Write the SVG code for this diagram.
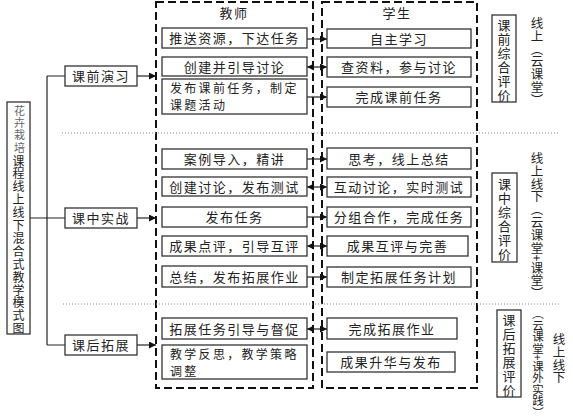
<svg xmlns="http://www.w3.org/2000/svg" width="573" height="419" viewBox="0 0 573 419">
<style>
text{font-family:"Noto Sans CJK SC","Liberation Sans",sans-serif;fill:#222;font-size:13px}
.b{fill:#fff;stroke:#333;stroke-width:1.3}
.dash{fill:none;stroke:#111;stroke-width:2;stroke-dasharray:8 4}
.dot{fill:none;stroke:#888;stroke-width:1;stroke-dasharray:1 2}
.ln{fill:none;stroke:#222;stroke-width:1.2}
.t{text-anchor:middle;letter-spacing:1.5px}
.tl{letter-spacing:2.3px;font-size:12px}
.v{writing-mode:vertical-rl;text-anchor:start}
</style>
<defs>
<marker id="ah" viewBox="0 0 8 8" refX="8" refY="4" markerWidth="7" markerHeight="7" orient="auto-start-reverse" markerUnits="userSpaceOnUse"><path d="M0,0 L8,4 L0,8 Z" fill="#111"/></marker>
</defs>

<!-- dashed lanes -->
<rect class="dash" x="156" y="2" width="157" height="386"/>
<rect class="dash" x="322" y="2" width="155" height="386"/>
<text x="234" y="18" class="t">教师</text>
<text x="397" y="18" class="t">学生</text>

<!-- dotted separators -->
<line class="dot" x1="62" y1="133" x2="560" y2="133"/>
<line class="dot" x1="63" y1="304" x2="560" y2="304"/>

<g id="connectors">
<path class="ln" d="M30,218 H65 M47,76 V345 M47,76 H65 M47,345 H65"/>
<line class="ln" x1="137" y1="76" x2="156" y2="76" marker-end="url(#ah)"/>
<line class="ln" x1="137" y1="218" x2="156" y2="218" marker-end="url(#ah)"/>
<line class="ln" x1="137" y1="345" x2="156" y2="345" marker-end="url(#ah)"/>
<line class="ln" x1="307" y1="39" x2="327" y2="39" marker-end="url(#ah)"/>
<line class="ln" x1="307" y1="67" x2="327" y2="67" marker-start="url(#ah)" marker-end="url(#ah)"/>
<line class="ln" x1="307" y1="97" x2="327" y2="97" marker-end="url(#ah)"/>
<line class="ln" x1="307" y1="159" x2="327" y2="159" marker-end="url(#ah)"/>
<line class="ln" x1="307" y1="187" x2="327" y2="187" marker-start="url(#ah)" marker-end="url(#ah)"/>
<line class="ln" x1="307" y1="217" x2="327" y2="217" marker-end="url(#ah)"/>
<line class="ln" x1="307" y1="246" x2="327" y2="246" marker-start="url(#ah)" marker-end="url(#ah)"/>
<line class="ln" x1="307" y1="277" x2="327" y2="277" marker-end="url(#ah)"/>
<line class="ln" x1="307" y1="329" x2="327" y2="329" marker-start="url(#ah)" marker-end="url(#ah)"/>
</g>

<g id="title">
<rect class="b" x="7" y="102" width="23" height="232"/>
<text x="18.5" y="105" class="v" style="font-family:'Liberation Serif','Noto Sans CJK SC',serif;font-size:11px;fill:#666;letter-spacing:1.3px">花卉栽培</text>
<text x="18.5" y="155" class="v" style="font-size:12px;letter-spacing:0.9px">课程线上线下混合式教学模式图</text>
</g>

<g id="phase1"><rect class="b" x="65" y="66" width="72" height="20"/><text x="101" y="81" class="t">课前演习</text></g>
<g id="phase2"><rect class="b" x="65" y="208" width="72" height="20"/><text x="101" y="223" class="t">课中实战</text></g>
<g id="phase3"><rect class="b" x="65" y="335" width="72" height="20"/><text x="101" y="350" class="t">课后拓展</text></g>

<g id="t1"><rect class="b" x="162" y="28" width="145" height="20"/><text x="234.5" y="43" class="t">推送资源，下达任务</text></g>
<g id="t2"><rect class="b" x="162" y="57" width="145" height="19"/><text x="234.5" y="71.5" class="t">创建并引导讨论</text></g>
<g id="t3"><rect class="b" x="162" y="79" width="145" height="35"/><text x="170" y="92.5" class="tl">发布课前任务，制定</text><text x="170" y="110" class="tl">课题活动</text></g>
<g id="s1"><rect class="b" x="327" y="29" width="144" height="19"/><text x="399" y="43.5" class="t">自主学习</text></g>
<g id="s2"><rect class="b" x="327" y="57" width="144" height="20"/><text x="399" y="72" class="t">查资料，参与讨论</text></g>
<g id="s3"><rect class="b" x="327" y="87" width="144" height="20"/><text x="399" y="102" class="t">完成课前任务</text></g>

<g id="t4"><rect class="b" x="162" y="149" width="145" height="20"/><text x="234.5" y="164" class="t">案例导入，精讲</text></g>
<g id="t5"><rect class="b" x="162" y="177" width="145" height="19"/><text x="234.5" y="191.5" class="t">创建讨论，发布测试</text></g>
<g id="t6"><rect class="b" x="162" y="207" width="145" height="20"/><text x="234.5" y="222" class="t">发布任务</text></g>
<g id="t7"><rect class="b" x="162" y="236" width="145" height="20"/><text x="234.5" y="251" class="t">成果点评，引导互评</text></g>
<g id="t8"><rect class="b" x="162" y="266" width="145" height="21"/><text x="234.5" y="281.5" class="t">总结，发布拓展作业</text></g>
<g id="s4"><rect class="b" x="327" y="148" width="144" height="21"/><text x="399" y="163.5" class="t">思考，线上总结</text></g>
<g id="s5"><rect class="b" x="327" y="177" width="144" height="20"/><text x="399" y="192" class="t">互动讨论，实时测试</text></g>
<g id="s6"><rect class="b" x="327" y="207" width="144" height="20"/><text x="399" y="222" class="t">分组合作，完成任务</text></g>
<g id="s7"><rect class="b" x="327" y="236" width="141" height="20"/><text x="397.5" y="251" class="t">成果互评与完善</text></g>
<g id="s8"><rect class="b" x="327" y="267" width="144" height="20"/><text x="399" y="282" class="t">制定拓展任务计划</text></g>

<g id="t9"><rect class="b" x="162" y="318" width="145" height="21"/><text x="234.5" y="333.5" class="t">拓展任务引导与督促</text></g>
<g id="t10"><rect class="b" x="162" y="345" width="145" height="34"/><text x="170" y="358.5" class="tl">教学反思，教学策略</text><text x="170" y="376" class="tl">调整</text></g>
<g id="s9"><rect class="b" x="327" y="318" width="130" height="21"/><text x="392" y="333.5" class="t">完成拓展作业</text></g>
<g id="s10"><rect class="b" x="327" y="352" width="128" height="20"/><text x="391" y="367" class="t">成果升华与发布</text></g>

<g id="e1"><rect class="b" x="492" y="15" width="24" height="87"/><text x="504" y="19" class="v" style="letter-spacing:1px">课前综合评价</text></g>
<g id="e2"><rect class="b" x="492" y="173" width="25" height="89"/><text x="504.5" y="178" class="v" style="letter-spacing:1px">课中综合评价</text></g>
<g id="e3"><rect class="b" x="497" y="310" width="24" height="87"/><text x="509" y="314" class="v" style="letter-spacing:1px">课后拓展评价</text></g>

<text x="537" y="17" class="v" style="font-size:12.5px;letter-spacing:0.3px">线上（云课堂）</text>
<text x="537" y="152" class="v" style="font-size:12.5px;letter-spacing:0.3px">线上线下（云课堂+课堂）</text>
<text x="538" y="308" class="v" style="font-size:11.5px;letter-spacing:0px">（云课堂+课外实践）</text>
<text x="559" y="333" class="v" style="font-size:12.5px;letter-spacing:0.3px">线上线下</text>
</svg>
